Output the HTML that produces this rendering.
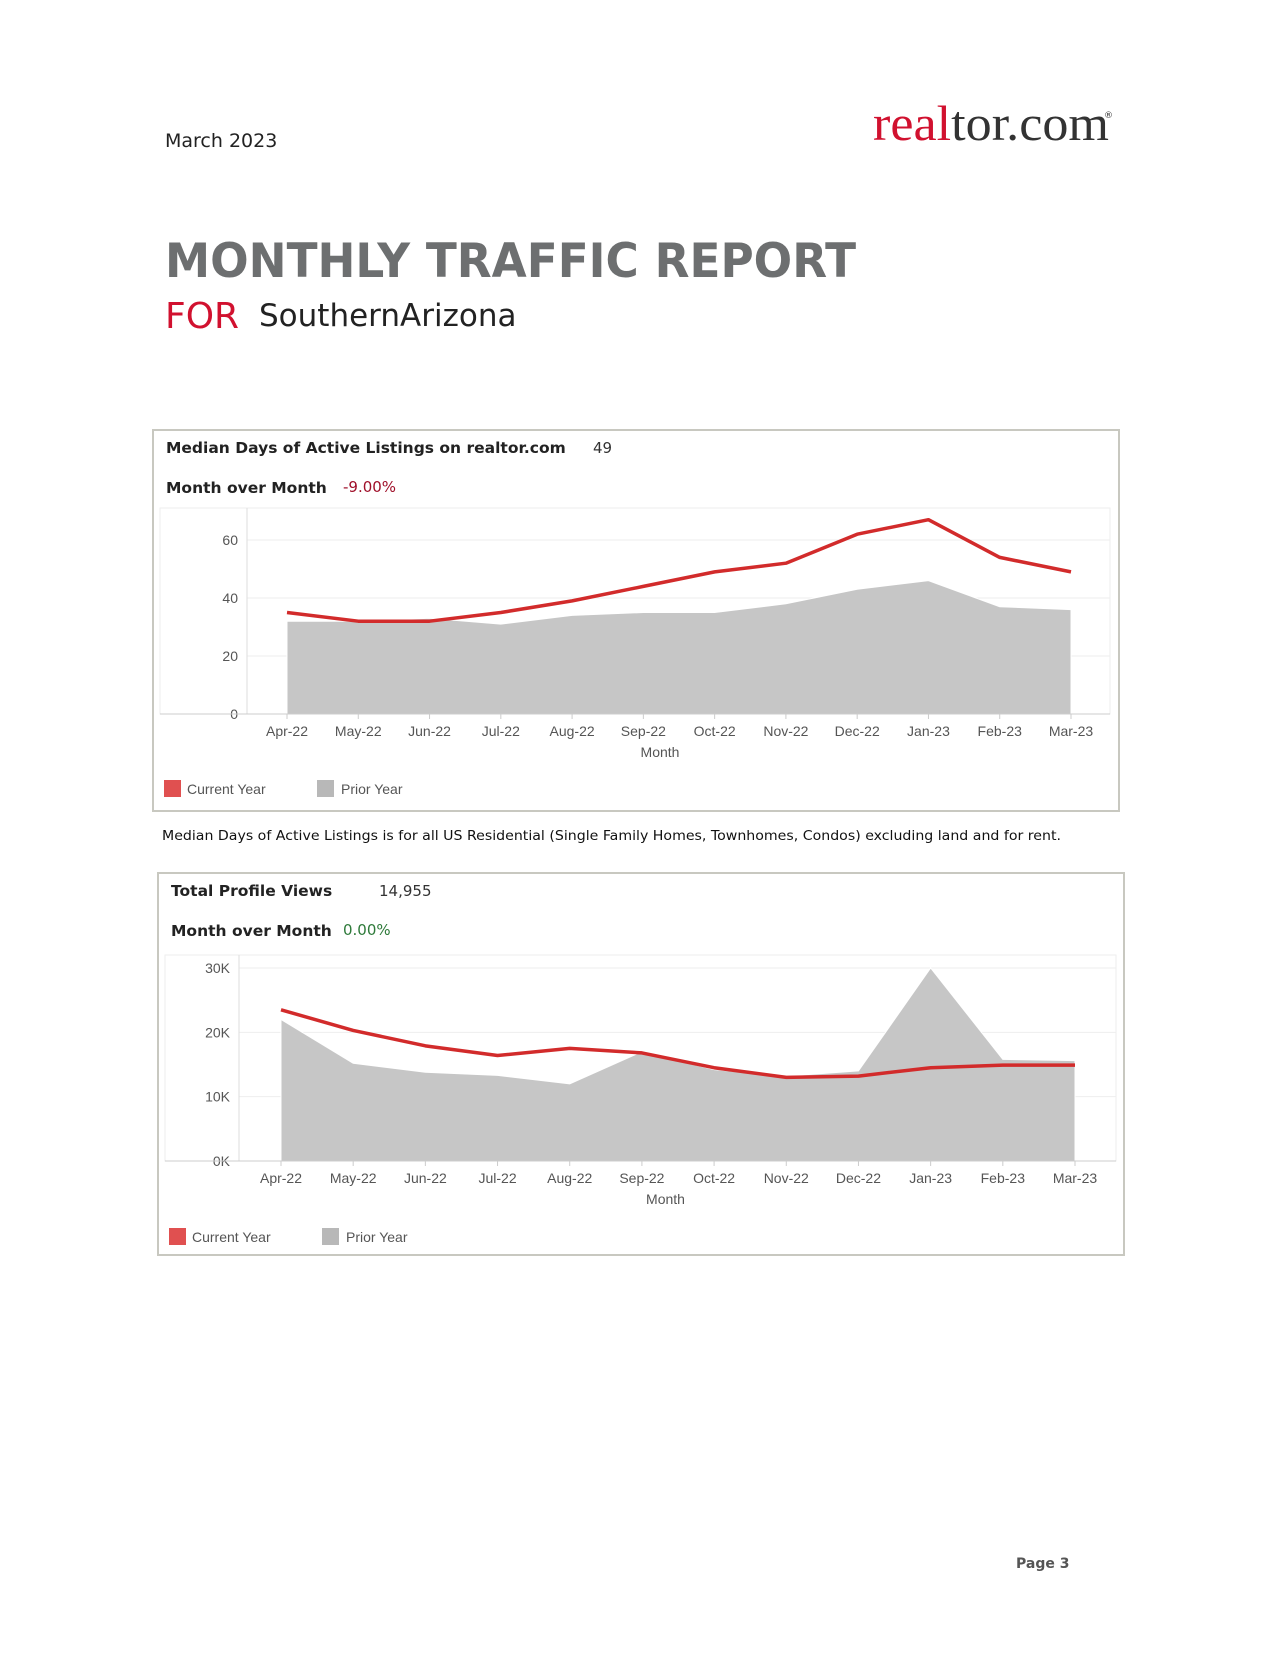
<!DOCTYPE html>
<html><head><meta charset="utf-8"><style>
body{margin:0;background:#fff}
svg text{font-family:"DejaVu Sans","Liberation Sans",sans-serif}
svg text.serif{font-family:"Liberation Serif",serif}
.ax{font-family:"Liberation Sans",sans-serif !important;font-size:14px;fill:#555}
</style></head><body>
<svg id="page" width="1275" height="1650" viewBox="0 0 1275 1650" xmlns="http://www.w3.org/2000/svg">
<text x="165" y="147" font-size="19" fill="#222">March 2023</text>
<text class="serif" x="873" y="140" font-size="50" textLength="236" lengthAdjust="spacingAndGlyphs"><tspan fill="#d1112f">real</tspan><tspan fill="#333">tor.com</tspan></text>
<text x="1104" y="118" font-size="9" fill="#333">®</text>
<text x="165" y="277" font-size="47" font-weight="bold" fill="#6d6f70" textLength="691" lengthAdjust="spacingAndGlyphs">MONTHLY TRAFFIC REPORT</text>
<text x="165" y="328" font-size="36" fill="#d1112f">FOR</text>
<text x="259" y="326" font-size="31" fill="#222">SouthernArizona</text>
<g id="c1"></g>
<text x="162" y="840" font-size="13.5" fill="#111" textLength="899" lengthAdjust="spacingAndGlyphs">Median Days of Active Listings is for all US Residential (Single Family Homes, Townhomes, Condos) excluding land and for rent.</text>
<g id="c2"></g>
<text x="1016" y="1568" font-size="14" font-weight="bold" fill="#555">Page 3</text>
</svg>
<script>
const months=["Apr-22","May-22","Jun-22","Jul-22","Aug-22","Sep-22","Oct-22","Nov-22","Dec-22","Jan-23","Feb-23","Mar-23"];
const daysCurrent=[35,32,32,35,39,44,49,52,62,67,54,49];
const daysPrior=[32,32,33,31,34,35,35,38,43,46,37,36];
const daysTicks=[0,20,40,60];
const viewsCurrent=[23500,20300,17900,16400,17500,16800,14500,13000,13200,14500,14900,14900];
const viewsPrior=[22000,15200,13800,13300,12000,17000,14200,13200,14000,30000,15800,15600];
const viewsTicks=[0,10000,20000,30000];
const NS="http://www.w3.org/2000/svg";
function mk(p,t,a,txt){const e=document.createElementNS(NS,t);for(const k in a)e.setAttribute(k,a[k]);if(txt!=null)e.textContent=txt;p.appendChild(e);return e;}
function chart(g,o){
  const box=mk(g,'rect',{x:o.bx,y:o.by,width:o.bw,height:o.bh,fill:'#fff',stroke:'#c8c8c0','stroke-width':2});
  
  
  const t1=mk(g,'text',{x:o.bx+13,y:o.by+23,'font-size':15.5,'font-weight':'bold',fill:'#222'},o.title);
  
  
  const v1=mk(g,'text',{x:o.valx,y:o.by+23,'font-size':15,fill:'#333'},o.value);
  
  
  const t2=mk(g,'text',{x:o.bx+13,y:o.by+63,'font-size':15.5,'font-weight':'bold',fill:'#222'},'Month over Month');
  
  
  const v2=mk(g,'text',{x:343,y:o.by+62,'font-size':15,fill:o.momColor},o.mom);
  
  
  const pl=o.pl,pt=o.pt,pr=o.pr,pb=o.pb,ax=o.ax;
  mk(g,'rect',{x:pl,y:pt,width:pr-pl,height:pb-pt,fill:'none',stroke:'#eee'});
  const y=v=>o.y0-(v/o.ymax)*(o.y0-o.ytop);
  const x=i=>o.x0+i*(o.x1-o.x0)/(months.length-1);
  o.ticks.forEach(v=>{
    mk(g,'line',{x1:ax,x2:pr,y1:y(v),y2:y(v),stroke:'#eee'});
    const tl=mk(g,'text',{x:ax-9,y:y(v)+5,'text-anchor':'end',class:'ax'},o.fmt(v));
    
    
  });
  mk(g,'line',{x1:ax,x2:ax,y1:pt,y2:pb,stroke:'#ddd'});
  let d='M'+x(0)+','+y(0);
  o.prior.forEach((v,i)=>d+=' L'+x(i)+','+y(v));
  d+=' L'+x(months.length-1)+','+y(0)+'Z';
  const area=mk(g,'path',{d:d,fill:'#c6c6c6',stroke:'#fff','stroke-width':1});
  
  
  const line=mk(g,'polyline',{points:o.cur.map((v,i)=>x(i)+','+y(v)).join(' '),fill:'none',stroke:'#d22b2b','stroke-width':3.5,'stroke-linejoin':'round'});
  
  
  mk(g,'line',{x1:pl,x2:pr,y1:pb,y2:pb,stroke:'#ccc'});
  months.forEach((m,i)=>{
    mk(g,'line',{x1:x(i),x2:x(i),y1:pb,y2:pb+5,stroke:'#ccc'});
    const ml=mk(g,'text',{x:x(i),y:pb+22,'text-anchor':'middle',class:'ax'},m);
    
    
  });
  const xt=mk(g,'text',{x:(pl+pr)/2+25,y:pb+43,'text-anchor':'middle',class:'ax'},'Month');
  
  
  const ly=o.ly;
  const s1=mk(g,'rect',{x:o.bx+11,y:ly-9,width:17,height:17,fill:'#e05050'});
  
  
  const l1=mk(g,'text',{x:o.bx+34,y:ly+5,class:'ax'},'Current Year');
  
  
  const s2=mk(g,'rect',{x:o.bx+164,y:ly-9,width:17,height:17,fill:'#b8b8b8'});
  
  
  const l2=mk(g,'text',{x:o.bx+188,y:ly+5,class:'ax'},'Prior Year');
  
  
}
chart(document.getElementById('c1'),{bx:153,by:430,bw:966,bh:381,title:'Median Days of Active Listings on realtor.com',valx:593,value:'49',mom:'-9.00%',momColor:'#a0102a',
  pl:160,pt:508,pr:1110,pb:714,ax:247,y0:714,ytop:540,ymax:60,x0:287,x1:1071,ticks:daysTicks,fmt:v=>String(v),cur:daysCurrent,prior:daysPrior,ly:789});
chart(document.getElementById('c2'),{bx:158,by:873,bw:966,bh:382,title:'Total Profile Views',valx:379,value:'14,955',mom:'0.00%',momColor:'#2e7a3a',
  pl:165,pt:955,pr:1116,pb:1161,ax:239,y0:1161,ytop:968,ymax:30000,x0:281,x1:1075,ticks:viewsTicks,fmt:v=>(v/1000)+'K',cur:viewsCurrent,prior:viewsPrior,ly:1237});
</script>
</body></html>
